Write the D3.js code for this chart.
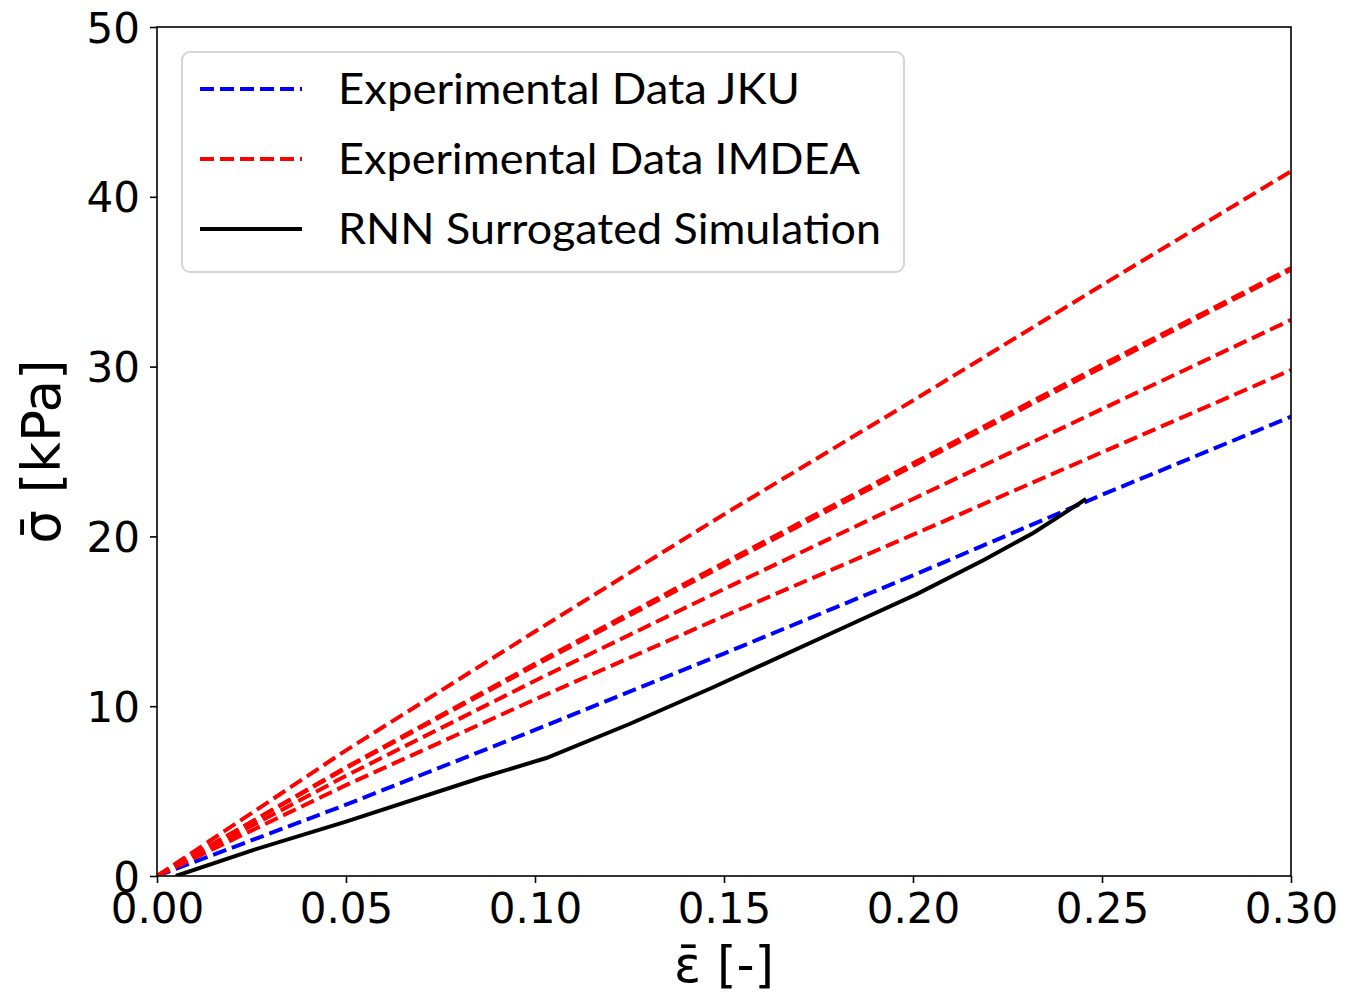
<!DOCTYPE html>
<html>
<head>
<meta charset="utf-8">
<script src="https://cdn.jsdelivr.net/npm/d3@7"></script>
<style>
  body { margin: 0; background: #fff; }
  svg { display: block; }
</style>
</head>
<body>
<script>
// strain values [-] shared by the experimental curves
var strainExp = [0, 0.05, 0.10, 0.15, 0.20, 0.25, 0.30];

// stress [kPa]
var jku = [0, 4.2, 8.6, 13.1, 17.7, 22.45, 27.05];
var imdea1 = [0, 7.4, 14.4, 21.3, 28.0, 34.8, 41.5];
var imdea2 = [0, 6.4, 12.5, 18.45, 24.3, 30.1, 35.8];
var imdea3 = [0, 6.35, 12.4, 18.3, 24.15, 29.95, 35.7];
var imdea4 = [0, 5.9, 11.5, 16.9, 22.2, 27.5, 32.75];
var imdea5 = [0, 5.35, 10.4, 15.3, 20.1, 24.95, 29.8];

// RNN surrogate
var strainRnn = [0.005, 0.025, 0.05, 0.0855, 0.103, 0.125, 0.147, 0.1833, 0.201, 0.2186, 0.2318, 0.2458];
var rnn = [0, 1.5, 3.2, 5.77, 6.95, 8.95, 11.1, 14.8, 16.6, 18.6, 20.2, 22.2];

var xTicks = [0, 0.05, 0.10, 0.15, 0.20, 0.25, 0.30];
var yTicks = [0, 10, 20, 30, 40, 50];

var legendLabels = ["Experimental Data JKU", "Experimental Data IMDEA", "RNN Surrogated Simulation"];

var W = 1346, H = 996;
var margin = {left:157, right:55, top:27, bottom:120};
var width = W - margin.left - margin.right;
var height = H - margin.top - margin.bottom;

var x = d3.scaleLinear().domain([0, 0.30]).range([0, width]);
var y = d3.scaleLinear().domain([0, 50]).range([height, 0]);

var svg = d3.select("body").append("svg").attr("width", W).attr("height", H);

svg.append("defs").append("clipPath").attr("id", "clip")
    .append("rect").attr("width", width).attr("height", height);

var chartGroup = svg.append("g")
    .attr("transform", "translate(" + margin.left + "," + margin.top + ")");

var line = d3.line()
    .x(function(d){ return x(d[0]); })
    .y(function(d){ return y(d[1]); });

function pairs(xs, ys) { return xs.map(function(v, i){ return [v, ys[i]]; }); }

var dash = "14,6";
var lw = 4;

var lines = chartGroup.append("g").attr("clip-path", "url(#clip)");

lines.append("path").attr("fill", "none").attr("stroke", "#0000ff")
    .attr("stroke-width", lw).attr("stroke-dasharray", dash)
    .attr("d", line(pairs(strainExp, jku)));

[imdea1, imdea2, imdea3, imdea4, imdea5].forEach(function(s){
  lines.append("path").attr("fill", "none").attr("stroke", "#ff0000")
      .attr("stroke-width", lw).attr("stroke-dasharray", dash)
      .attr("d", line(pairs(strainExp, s)));
});

lines.append("path").attr("fill", "none").attr("stroke", "#000")
    .attr("stroke-width", lw)
    .attr("d", line(pairs(strainRnn, rnn)));

// axes
var xAxis = d3.axisBottom(x).tickValues(xTicks).tickFormat(d3.format(".2f")).tickSize(7).tickPadding(10);
var yAxis = d3.axisLeft(y).tickValues(yTicks).tickFormat(d3.format("d")).tickSize(7).tickPadding(10);

var gx = chartGroup.append("g").attr("transform", "translate(0," + height + ")").call(xAxis);
var gy = chartGroup.append("g").call(yAxis);

[gx, gy].forEach(function(g){
  g.select(".domain").remove();
  g.selectAll("line").attr("stroke", "#000").attr("stroke-width", 1.6);
  g.selectAll("text").attr("font-family", "DejaVu Sans").attr("font-size", 42).attr("fill", "#000");
});
gy.selectAll("text").attr("dy", "0.36em");

// frame
chartGroup.append("rect").attr("width", width).attr("height", height)
    .attr("fill", "none").attr("stroke", "#000").attr("stroke-width", 1.6);

// axis labels
svg.append("text").attr("x", margin.left + width/2).attr("y", 982)
    .attr("text-anchor", "middle").attr("font-family", "DejaVu Sans").attr("font-size", 50)
    .text("\u03b5\u0304 [-]");

svg.append("text").attr("transform", "translate(60," + (margin.top + height/2) + ") rotate(-90)")
    .attr("text-anchor", "middle").attr("font-family", "DejaVu Sans").attr("font-size", 53)
    .text("\u03c3\u0304 [kPa]");

// legend
var legend = svg.append("g").attr("transform", "translate(182,52)");
legend.append("rect").attr("width", 722).attr("height", 220).attr("rx", 8)
    .attr("fill", "#fff").attr("fill-opacity", 0.8).attr("stroke", "#d6d6d6").attr("stroke-width", 2);

var legendStyles = [
  {color:"#0000ff", dash:dash},
  {color:"#ff0000", dash:dash},
  {color:"#000", dash:null}
];

legendLabels.forEach(function(lab, i){
  var cy = 37 + i*70;
  legend.append("line").attr("x1", 18).attr("x2", 120).attr("y1", cy).attr("y2", cy)
      .attr("stroke", legendStyles[i].color).attr("stroke-width", lw)
      .attr("stroke-dasharray", legendStyles[i].dash);
  legend.append("text").attr("x", 156).attr("y", cy + 15)
      .attr("font-family", "Lato").attr("font-size", 42).attr("fill", "#000")
      .text(lab);
});
var widths = [462, 522, 543];
legend.selectAll("text").attr("textLength", function(d, i){ return widths[i]; })
    .attr("lengthAdjust", "spacingAndGlyphs");
</script>
</body>
</html>
